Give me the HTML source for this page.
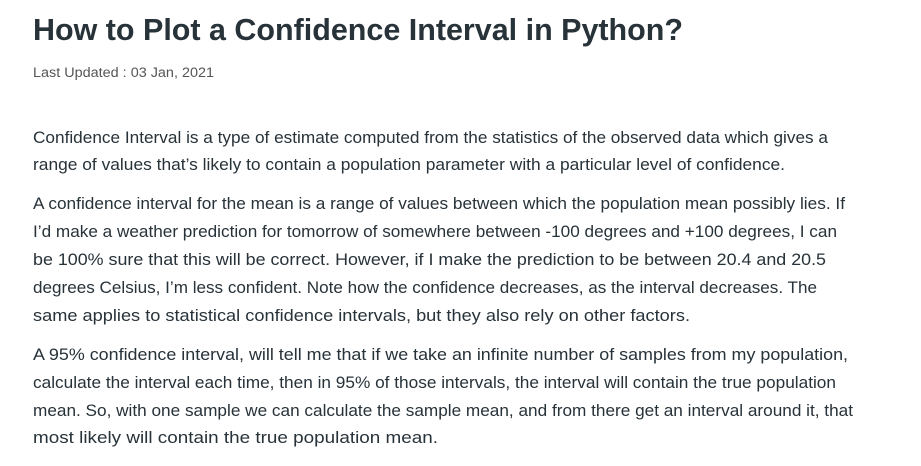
<!DOCTYPE html>
<html>
<head>
<meta charset="utf-8">
<style>
  html,body{margin:0;padding:0;background:#fff;}
  body{width:921px;height:461px;overflow:hidden;}
  svg text{font-family:"Liberation Sans",sans-serif;fill:#273239;}
  .body{font-size:16.5px;}
</style>
</head>
<body>
<svg width="921" height="461">
  <text x="33" y="40" font-size="31" font-weight="bold" textLength="650" lengthAdjust="spacingAndGlyphs">How to Plot a Confidence Interval in Python?</text>
  <text x="33" y="77" font-size="13.5" style="fill:#555" textLength="181" lengthAdjust="spacingAndGlyphs">Last Updated : 03 Jan, 2021</text>

  <g class="body">
    <text x="33" y="143" textLength="795" lengthAdjust="spacingAndGlyphs">Confidence Interval is a type of estimate computed from the statistics of the observed data which gives a</text>
    <text x="33" y="170" textLength="752" lengthAdjust="spacingAndGlyphs">range of values that’s likely to contain a population parameter with a particular level of confidence.</text>
  </g>
  <g class="body">
    <text x="33" y="209" textLength="812" lengthAdjust="spacingAndGlyphs">A confidence interval for the mean is a range of values between which the population mean possibly lies. If</text>
    <text x="33" y="237" textLength="804" lengthAdjust="spacingAndGlyphs">I’d make a weather prediction for tomorrow of somewhere between -100 degrees and +100 degrees, I can</text>
    <text x="33" y="265" textLength="793" lengthAdjust="spacingAndGlyphs">be 100% sure that this will be correct. However, if I make the prediction to be between 20.4 and 20.5</text>
    <text x="33" y="293" textLength="784" lengthAdjust="spacingAndGlyphs">degrees Celsius, I’m less confident. Note how the confidence decreases, as the interval decreases. The</text>
    <text x="33" y="321" textLength="657" lengthAdjust="spacingAndGlyphs">same applies to statistical confidence intervals, but they also rely on other factors.</text>
  </g>
  <g class="body">
    <text x="33" y="360" textLength="815" lengthAdjust="spacingAndGlyphs">A 95% confidence interval, will tell me that if we take an infinite number of samples from my population,</text>
    <text x="33" y="388" textLength="803" lengthAdjust="spacingAndGlyphs">calculate the interval each time, then in 95% of those intervals, the interval will contain the true population</text>
    <text x="33" y="416" textLength="820" lengthAdjust="spacingAndGlyphs">mean. So, with one sample we can calculate the sample mean, and from there get an interval around it, that</text>
    <text x="33" y="443" textLength="405" lengthAdjust="spacingAndGlyphs">most likely will contain the true population mean.</text>
  </g>
</svg>
</body>
</html>
